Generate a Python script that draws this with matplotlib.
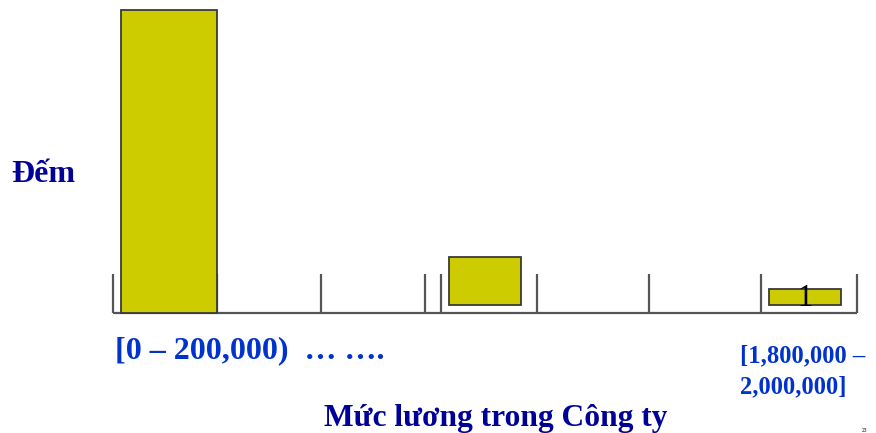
import matplotlib
matplotlib.use("Agg")
import matplotlib.pyplot as plt

# histogram bins (x in grid units, 1 unit = one small step), counts per bin
bin_left = [1, 42, 82]
bin_width = [12, 9, 9]
counts = [19, 3, 1]
bar_bottom = [0, 0.5, 0.5]
tick_pos = [0, 13, 26, 39, 41, 53, 67, 81, 93]
bar_labels = ["", "", "1"]

y_label = "Đếm"
x_label = "Mức lương trong Công ty"
first_bin = "[0 – 200,000)  … …."
last_bin = ["[1,800,000 –", "2,000,000]"]

W, H = 876, 433
fig = plt.figure(figsize=(W / 100, H / 100), dpi=100)
fig.patch.set_facecolor("white")

ax = fig.add_axes([113 / W, (H - 313) / H, 744 / W, 303 / H])
ax.set_xlim(0, 93)
ax.set_ylim(0, 19)
ax.axis("off")

edge = "#3a3a3a"
ax.hlines(0, 0, 93, color="#555555", lw=1.6, clip_on=False, zorder=1)
ax.vlines(tick_pos, 0, 2.45, color="#555555", lw=1.6, clip_on=False, zorder=1)
ax.bar(bin_left, counts, width=bin_width, bottom=bar_bottom, align="edge",
       color="#cccc00", edgecolor=edge, linewidth=1.3, clip_on=False, zorder=2)

for x, w, b, c, t in zip(bin_left, bin_width, bar_bottom, counts, bar_labels):
    if t:
        ax.text(x + w / 2, b + c / 2 - 0.1, t, ha="center", va="center",
                family="Liberation Serif", fontsize=22, color="black", zorder=3)

serif = "Liberation Serif"
fig.text(11 / W, 1 - 182 / H, y_label, family=serif, weight="bold",
         fontsize=23, color="#000099", ha="left", va="baseline")
fig.text(115 / W, 1 - 358 / H, first_bin, family=serif, weight="bold",
         fontsize=23, color="#0033cc", ha="left", va="baseline")
for i, line in enumerate(last_bin):
    fig.text(740 / W, 1 - (362 + 31 * i) / H, line, family=serif, weight="bold",
             fontsize=17.7, color="#0033cc", ha="left", va="baseline")
fig.text(496 / W, 1 - 426 / H, x_label, family=serif, weight="bold",
         fontsize=22.7, color="#000099", ha="center", va="baseline")
fig.text(864 / W, 0.5 / H, "23", family=serif, fontsize=4,
         color="black", ha="center", va="bottom")

fig.savefig("out.png", dpi=100, facecolor="white")
